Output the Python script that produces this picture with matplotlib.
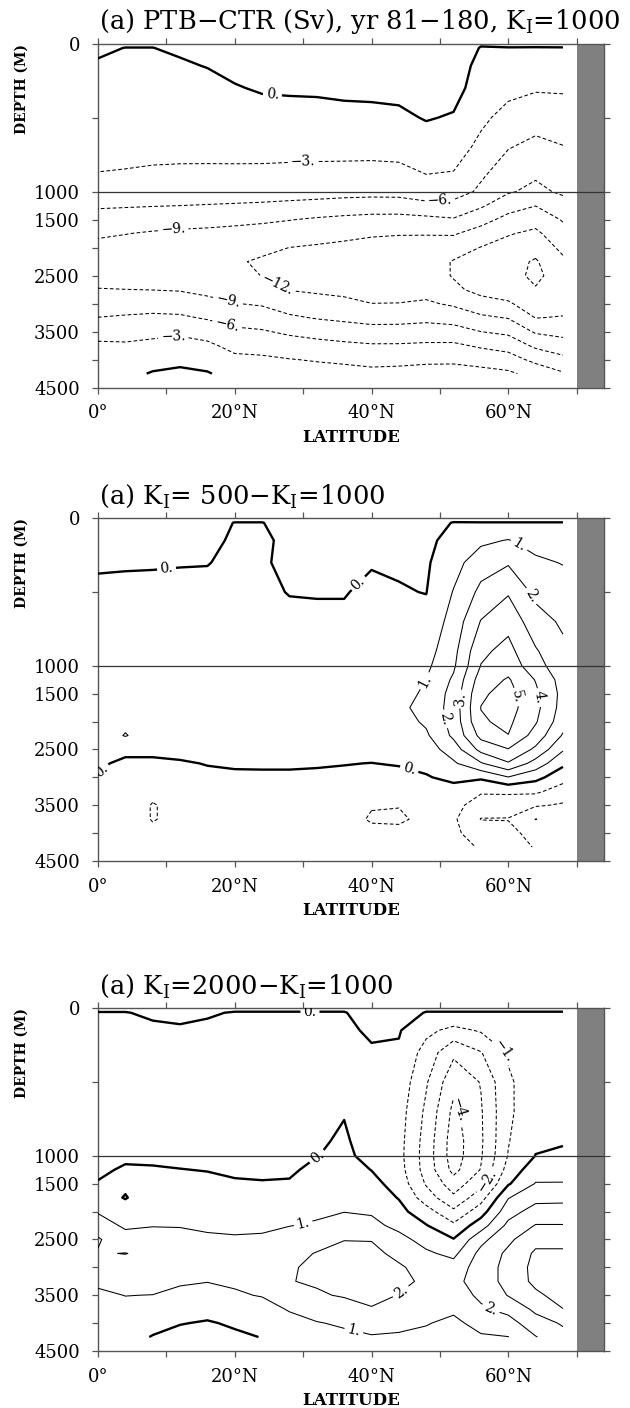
import numpy as np
import matplotlib
matplotlib.use("Agg")
import matplotlib.pyplot as plt
from matplotlib.ticker import FixedLocator, FixedFormatter, NullFormatter

plt.rcParams['font.family'] = ['DejaVu Serif']
plt.rcParams['mathtext.fontset'] = 'dejavuserif'
plt.rcParams['lines.dashed_pattern'] = (3.5, 2.2)

# ---------------------------------------------------------------------------
# Grid: latitude (deg N) and depth (m) of the overturning difference fields
# ---------------------------------------------------------------------------
lats = [0, 4, 8, 12, 16, 20, 24, 28, 32, 36, 40, 44, 48, 52, 56, 60, 64, 68]
depths = [0, 30, 150, 300, 500, 700, 900, 1000, 1250, 1500, 1750, 2000,
          2250, 2500, 2750, 3000, 3250, 3500, 3750, 4000, 4250]

# PTB-CTR, K_I=1000 (Sv); one list per latitude, top to bottom
ptb_minus_ctr = [
    [0.3, 0.2, -0.14, -0.73, -1.51, -2.3, -3.14, -3.86, -5.66, -7.2, -8.68, -9.6, -10.4, -9.9, -8.9, -7.45, -5.96, -4.1, -2.5, -1.7, -1.0],
    [0.2, -0.02, -0.44, -0.97, -1.68, -2.4, -3.22, -3.95, -5.78, -7.38, -8.94, -9.9, -10.8, -10.3, -8.97, -7.3, -5.7, -4.16, -2.6, -1.6, -0.7],
    [0.2, -0.02, -0.45, -1.0, -1.72, -2.45, -3.36, -4.08, -5.9, -7.62, -9.3, -10.2, -11.0, -10.5, -9.05, -7.25, -5.45, -3.75, -2.3, -1.0, 0.2],
    [0.35, 0.26, -0.22, -0.83, -1.63, -2.44, -3.44, -4.17, -6.0, -7.92, -9.5, -10.4, -11.3, -10.6, -9.2, -7.43, -5.58, -3.5, -2.0, -0.7, 0.6],
    [0.7, 0.61, 0.07, -0.6, -1.5, -2.39, -3.49, -4.25, -6.16, -8.13, -9.6, -10.5, -11.6, -11.0, -9.7, -8.18, -6.3, -4.2, -2.42, -1.1, 0.2],
    [1.45, 1.29, 0.64, -0.16, -1.23, -2.3, -3.55, -4.34, -6.32, -8.35, -9.8, -10.7, -11.7, -11.3, -10.1, -8.93, -7.14, -5.44, -3.9, -2.3, -1.0],
    [1.5, 1.35, 0.85, 0.25, -0.99, -2.23, -3.62, -4.44, -6.5, -8.58, -10.07, -11.4, -12.35, -12.05, -10.8, -9.3, -7.55, -5.74, -4.1, -2.5, -1.3],
    [1.5, 1.35, 0.9, 0.35, -0.95, -2.24, -3.72, -4.6, -6.77, -8.91, -10.47, -12.02, -12.8, -12.7, -12.1, -10.43, -8.58, -6.5, -4.64, -2.9, -1.6],
    [1.5, 1.35, 0.95, 0.4, -0.9, -2.25, -3.8, -4.72, -7.06, -9.33, -10.96, -12.3, -13.0, -12.9, -12.4, -11.0, -9.2, -7.06, -5.05, -3.2, -1.9],
    [1.6, 1.45, 1.0, 0.6, -0.79, -2.2, -3.9, -4.9, -7.4, -9.64, -11.43, -12.5, -13.2, -13.1, -12.6, -11.43, -9.6, -7.55, -5.4, -3.5, -2.0],
    [1.6, 1.5, 1.05, 0.65, -0.71, -2.2, -3.97, -5.0, -7.59, -9.88, -11.8, -12.6, -13.2, -13.3, -12.9, -11.98, -10.03, -7.94, -5.71, -3.8, -2.3],
    [1.6, 1.5, 1.1, 0.8, -0.56, -2.1, -3.87, -4.94, -7.57, -9.91, -11.9, -12.7, -13.3, -13.4, -12.9, -11.95, -10.0, -7.9, -5.7, -3.7, -2.2],
    [1.3, 1.25, 1.15, 0.9, 0.2, -1.46, -3.14, -4.17, -6.9, -9.73, -11.9, -12.8, -13.6, -13.6, -13.0, -11.6, -9.75, -7.68, -5.53, -3.5, -2.0],
    [1.3, 1.25, 1.2, 1.05, -0.25, -1.71, -3.31, -4.54, -7.1, -9.24, -11.76, -13.62, -15.2, -15.2, -14.38, -12.44, -10.22, -7.83, -5.48, -3.5, -1.9],
    [0.2, -0.1, -0.7, -1.4, -2.4, -3.7, -5.7, -6.57, -8.6, -11.0, -13.2, -15.1, -16.3, -16.5, -15.9, -13.86, -11.5, -9.0, -6.4, -4.15, -2.0],
    [0.2, -0.03, -1.0, -2.2, -3.96, -5.85, -7.76, -8.72, -10.85, -12.88, -14.8, -16.0, -17.0, -17.0, -16.3, -14.68, -12.16, -9.64, -7.13, -4.74, -2.5],
    [0.2, -0.04, -1.2, -2.7, -4.76, -6.79, -8.78, -9.7, -11.95, -13.92, -15.61, -17.0, -18.3, -18.6, -17.8, -16.46, -15.1, -12.38, -9.56, -6.78, -4.0],
    [0.2, -0.03, -1.2, -2.65, -4.41, -6.11, -7.72, -8.53, -10.2, -11.77, -13.04, -14.27, -15.6, -16.6, -17.0, -16.4, -14.8, -12.9, -10.73, -8.2, -5.7],
]

# K_I=500 minus K_I=1000 (Sv)
ki500_minus_ki1000 = [
    [-0.3, -0.27, -0.18, -0.06, 0.1, 0.2, 0.3, 0.35, 0.45, 0.5, 0.55, 0.55, 0.5, 0.35, 0.15, -0.05, -0.2, -0.3, -0.35, -0.3, -0.2],
    [-0.3, -0.27, -0.17, -0.05, 0.12, 0.25, 0.35, 0.4, 0.5, 0.6, 0.7, 0.8, 1.05, 0.25, -0.2, -0.35, -0.45, -0.5, -0.5, -0.4, -0.3],
    [-0.3, -0.27, -0.15, -0.04, 0.12, 0.25, 0.35, 0.4, 0.5, 0.6, 0.65, 0.65, 0.55, 0.25, -0.2, -0.5, -0.8, -1.05, -1.05, -0.8, -0.5],
    [-0.3, -0.27, -0.14, -0.03, 0.15, 0.3, 0.4, 0.45, 0.55, 0.6, 0.65, 0.65, 0.55, 0.3, -0.1, -0.4, -0.6, -0.75, -0.75, -0.6, -0.4],
    [-0.3, -0.27, -0.14, -0.02, 0.15, 0.3, 0.38, 0.42, 0.5, 0.55, 0.58, 0.58, 0.5, 0.35, 0.04, -0.2, -0.35, -0.45, -0.45, -0.4, -0.3],
    [-0.2, 0.02, 0.08, 0.12, 0.2, 0.3, 0.38, 0.42, 0.5, 0.55, 0.55, 0.55, 0.45, 0.3, 0.07, -0.1, -0.25, -0.35, -0.35, -0.3, -0.2],
    [-0.2, 0.02, 0.15, 0.06, 0.1, 0.25, 0.35, 0.4, 0.45, 0.5, 0.5, 0.5, 0.42, 0.3, 0.08, -0.1, -0.2, -0.3, -0.3, -0.25, -0.2],
    [-0.3, -0.27, -0.2, -0.12, -0.02, 0.12, 0.25, 0.35, 0.42, 0.45, 0.47, 0.45, 0.4, 0.28, 0.08, -0.1, -0.2, -0.3, -0.3, -0.25, -0.2],
    [-0.3, -0.28, -0.22, -0.14, -0.03, 0.1, 0.22, 0.28, 0.38, 0.42, 0.45, 0.43, 0.38, 0.27, 0.06, -0.12, -0.25, -0.35, -0.4, -0.35, -0.25],
    [-0.3, -0.28, -0.22, -0.14, -0.03, 0.1, 0.2, 0.25, 0.35, 0.4, 0.42, 0.4, 0.35, 0.25, 0.02, -0.12, -0.35, -0.6, -0.7, -0.6, -0.4],
    [-0.3, -0.25, -0.15, -0.04, 0.12, 0.22, 0.3, 0.33, 0.38, 0.42, 0.43, 0.4, 0.35, 0.22, -0.01, -0.3, -0.6, -0.95, -1.08, -0.8, -0.5],
    [-0.3, -0.27, -0.18, -0.09, 0.05, 0.18, 0.3, 0.35, 0.45, 0.55, 0.8, 0.6, 0.45, 0.25, 0.05, -0.2, -0.55, -0.97, -1.12, -0.8, -0.5],
    [-0.3, -0.27, -0.2, -0.12, -0.02, 0.25, 0.6, 0.8, 1.01, 1.2, 1.3, 1.15, 0.85, 0.5, 0.2, -0.06, -0.3, -0.55, -0.8, -0.7, -0.4],
    [-0.2, 0.03, 0.3, 0.65, 1.05, 1.4, 1.7, 1.85, 2.15, 2.35, 2.4, 2.35, 2.2, 1.5, 0.85, 0.2, -0.3, -0.6, -0.85, -0.8, -0.6],
    [-0.2, 0.02, 0.8, 1.55, 2.25, 3.05, 3.8, 4.03, 4.5, 4.85, 5.02, 4.9, 4.3, 3.3, 1.9, 0.15, -0.85, -1.6, -2.03, -1.5, -1.1],
    [-0.2, 0.02, 1.05, 1.9, 2.9, 3.7, 4.3, 4.6, 5.1, 5.35, 5.4, 5.2, 4.98, 3.95, 2.9, 0.95, -0.85, -1.5, -2.05, -1.6, -1.3],
    [-0.2, 0.02, 0.6, 1.2, 1.75, 2.4, 3.1, 3.4, 3.95, 4.2, 4.3, 4.1, 3.6, 2.8, 1.6, 0.3, -0.8, -1.9, -3.02, -2.5, -2.1],
    [-0.2, 0.02, 0.4, 0.95, 1.5, 1.85, 2.2, 2.35, 2.6, 2.7, 2.6, 2.4, 1.9, 1.1, 0.2, -0.6, -1.5, -2.1, -2.5, -2.4, -2.2],
]

# K_I=2000 minus K_I=1000 (Sv)
ki2000_minus_ki1000 = [
    [0.1, -0.02, -0.1, -0.2, -0.3, -0.35, -0.35, -0.3, -0.15, 0.05, 0.4, 0.9, 1.6, 2.08, 1.95, 1.6, 1.2, 0.8, 0.5, 0.3, 0.2],
    [0.1, -0.02, -0.1, -0.2, -0.3, -0.3, -0.25, -0.15, 0.1, 0.15, -0.05, 0.4, 0.8, 1.5, 2.02, 1.7, 1.4, 1.02, 0.7, 0.5, 0.35],
    [0.15, 0.08, -0.1, -0.2, -0.3, -0.3, -0.25, -0.18, 0.08, 0.3, 0.5, 0.7, 0.97, 1.3, 1.8, 1.8, 1.5, 0.98, 0.6, 0.3, -0.05],
    [0.2, 0.13, -0.07, -0.2, -0.3, -0.32, -0.28, -0.22, 0.02, 0.3, 0.5, 0.7, 0.95, 1.3, 1.7, 1.6, 1.1, 0.8, 0.5, 0.05, -0.35],
    [0.12, 0.05, -0.1, -0.2, -0.3, -0.33, -0.3, -0.25, -0.03, 0.2, 0.4, 0.6, 0.85, 1.15, 1.5, 1.45, 1.02, 0.75, 0.4, -0.1, -0.6],
    [0.1, -0.03, -0.12, -0.2, -0.28, -0.3, -0.3, -0.28, -0.12, 0.08, 0.35, 0.55, 0.8, 1.1, 1.4, 1.4, 1.12, 0.9, 0.55, 0.15, -0.2],
    [0.1, -0.03, -0.12, -0.2, -0.28, -0.3, -0.3, -0.28, -0.15, 0.05, 0.35, 0.6, 0.85, 1.12, 1.45, 1.6, 1.4, 1.05, 0.65, 0.35, 0.03],
    [0.1, -0.03, -0.12, -0.2, -0.28, -0.3, -0.3, -0.27, -0.12, 0.07, 0.4, 0.7, 0.98, 1.35, 1.7, 1.9, 1.97, 1.7, 1.07, 0.7, 0.45],
    [0.1, -0.03, -0.12, -0.2, -0.25, -0.22, -0.1, -0.02, 0.2, 0.45, 0.65, 0.85, 1.1, 1.6, 2.05, 2.2, 2.1, 1.9, 1.4, 0.95, 0.6],
    [0.1, -0.03, -0.12, -0.18, -0.15, -0.04, 0.1, 0.2, 0.4, 0.6, 0.8, 0.98, 1.4, 1.97, 2.3, 2.4, 2.3, 2.08, 1.6, 1.12, 0.8],
    [0.3, 0.25, 0.09, -0.07, -0.25, -0.35, -0.35, -0.3, -0.02, 0.3, 0.55, 0.9, 1.25, 1.95, 2.3, 2.4, 2.35, 2.2, 1.95, 1.5, 0.9],
    [0.3, 0.25, 0.07, -0.12, -0.35, -0.55, -0.65, -0.68, -0.6, -0.4, -0.05, 0.3, 0.75, 1.3, 1.7, 2.15, 2.2, 1.98, 1.6, 1.2, 0.9],
    [0.1, -0.03, -0.75, -1.4, -1.9, -2.2, -2.4, -2.45, -2.4, -2.1, -1.5, -0.6, 0.05, 0.65, 1.15, 1.55, 1.85, 1.7, 1.4, 1.05, 0.8],
    [0.1, -0.03, -1.3, -2.8, -3.7, -4.25, -4.5, -4.5, -4.3, -3.55, -2.8, -1.8, -0.8, 0.05, 0.75, 1.4, 1.7, 1.5, 1.15, 0.8, 0.7],
    [0.1, -0.03, -0.9, -2.05, -2.95, -3.1, -3.15, -3.1, -2.95, -2.3, -1.4, -0.45, 0.55, 1.7, 2.3, 2.5, 2.5, 2.2, 1.85, 1.3, 0.9],
    [0.1, -0.03, -0.5, -0.9, -1.12, -1.15, -1.05, -0.95, -0.6, -0.1, 0.95, 1.6, 2.25, 2.8, 3.2, 3.3, 3.3, 3.05, 2.3, 1.6, 0.98],
    [0.1, -0.03, -0.3, -0.5, -0.55, -0.45, -0.15, 0.02, 0.55, 1.05, 1.7, 2.4, 3.05, 3.7, 4.15, 4.3, 4.25, 3.8, 3.2, 2.6, 1.95],
    [0.1, -0.03, -0.25, -0.4, -0.4, -0.3, -0.05, 0.1, 0.6, 1.05, 1.75, 2.4, 3.05, 3.6, 4.2, 4.5, 4.6, 4.4, 3.98, 3.1, 2.7],
]

titles = [
    r"(a) PTB$-$CTR (Sv), yr 81$-$180, K$_{\rm I}$=1000",
    r"(a) K$_{\rm I}$= 500$-$K$_{\rm I}$=1000",
    r"(a) K$_{\rm I}$=2000$-$K$_{\rm I}$=1000",
]

lat_ticks = [0, 20, 40, 60]
lat_ticklabels = ["0°", "20°N", "40°N", "60°N"]
depth_ticks = [0, 1000, 1500, 2500, 3500, 4500]
depth_ticklabels = ["0", "1000", "1500", "2500", "3500", "4500"]

# ---------------------------------------------------------------------------
# Depth axis: upper 1000 m stretched, deep ocean compressed
# ---------------------------------------------------------------------------
SPLIT = 1000.0
DEEP = 0.378


def fwd(d):
    d = np.asarray(d, dtype=float)
    return np.where(d <= SPLIT, d, SPLIT + (d - SPLIT) * DEEP)


def inv(u):
    u = np.asarray(u, dtype=float)
    return np.where(u <= SPLIT, u, SPLIT + (u - SPLIT) / DEEP)


def fmt_label(v):
    s = f"{abs(v):.0f}."
    return ("\u2212" + s) if v < 0 else s


W, H = 630.0, 1408.0
fig = plt.figure(figsize=(W / 100, H / 100), dpi=100)

boxes = [(98, 43.5, 604, 387.6), (98, 518.3, 604, 861.0), (98, 1008.3, 604, 1351.0)]

specs = [
    dict(data=ptb_minus_ctr, step=3,
         zero_lab=[(25.5, 350)],
         neg_lab=[(30, 820), (50, 1150), (11, 1690), (26.5, 2600), (19, 2960), (19, 3330), (11, 3580)],
         pos_lab=[]),
    dict(data=ki500_minus_ki1000, step=1,
         zero_lab=[(10, 330), (38.5, 460), (0.6, 2900), (45.5, 2860)],
         neg_lab=[],
         pos_lab=[(62, 150), (64.5, 500), (47.5, 1250), (53.5, 1600), (51, 1950), (61.6, 1550), (64.3, 1570)]),
    dict(data=ki2000_minus_ki1000, step=1,
         zero_lab=[(31, 23), (32, 1000)],
         neg_lab=[(59.7, 270), (52.3, 700), (56.5, 1420)],
         pos_lab=[(30, 2210), (44.5, 3470), (37.5, 4090), (57.5, 3720)]),
]

spine_col = "#555555"

for (left, top, right, bottom), spec, title in zip(boxes, specs, titles):
    ax = fig.add_axes([left / W, 1 - bottom / H, (right - left) / W, (bottom - top) / H])
    ax.set_yscale("function", functions=(fwd, inv))
    ax.set_xlim(0, 74)
    ax.set_ylim(4500, 0)

    Z = np.array(spec["data"]).T
    step = spec["step"]
    neg_levels = [-step * k for k in range(8, 0, -1)]
    pos_levels = [step * k for k in range(1, 9)]

    neg = ax.contour(lats, depths, Z, levels=neg_levels, colors="k",
                     linewidths=0.75, linestyles="dashed", zorder=3)
    zero = ax.contour(lats, depths, Z, levels=[0], colors="k",
                      linewidths=1.7, linestyles="solid", zorder=3)
    pos = ax.contour(lats, depths, Z, levels=pos_levels, colors="k",
                     linewidths=0.75, linestyles="solid", zorder=3)

    for cs, where in ((zero, spec["zero_lab"]), (neg, spec["neg_lab"]), (pos, spec["pos_lab"])):
        if where:
            ax.clabel(cs, fmt=fmt_label, manual=where, fontsize=10,
                      inline=True, inline_spacing=3)

    # land strip and the 1000 m split line
    ax.axvspan(70, 74, color="#808080", lw=0, zorder=2)
    ax.axhline(1000, color="#333333", lw=0.9, zorder=4)

    ax.xaxis.set_major_locator(FixedLocator(lat_ticks))
    ax.xaxis.set_major_formatter(FixedFormatter(lat_ticklabels))
    ax.xaxis.set_minor_locator(FixedLocator([10, 30, 50, 70]))
    ax.yaxis.set_major_locator(FixedLocator(depth_ticks))
    ax.yaxis.set_major_formatter(FixedFormatter(depth_ticklabels))
    ax.yaxis.set_minor_locator(FixedLocator([500, 2000, 3000, 4000]))
    ax.yaxis.set_minor_formatter(NullFormatter())

    ax.tick_params(which="both", direction="out", length=4, width=0.9,
                   color=spine_col, top=True, right=True,
                   labeltop=False, labelright=False)
    ax.tick_params(axis="x", which="major", labelsize=13, pad=8)
    ax.tick_params(axis="y", which="major", labelsize=13, pad=9)
    for s in ax.spines.values():
        s.set_color(spine_col)
        s.set_linewidth(1.0)

    fig.text(99 / W, 1 - (top - 14) / H, title, fontsize=18.5,
             ha="left", va="baseline")
    fig.text((left + right) / 2 / W, 1 - (bottom + 54) / H, "LATITUDE",
             fontsize=12, fontweight="bold", ha="center", va="baseline")
    fig.text(22 / W, 1 - (top + 45) / H, "DEPTH (M)", fontsize=10,
             fontweight="bold", rotation=90, ha="center", va="center")

fig.savefig("out.png", dpi=100)
